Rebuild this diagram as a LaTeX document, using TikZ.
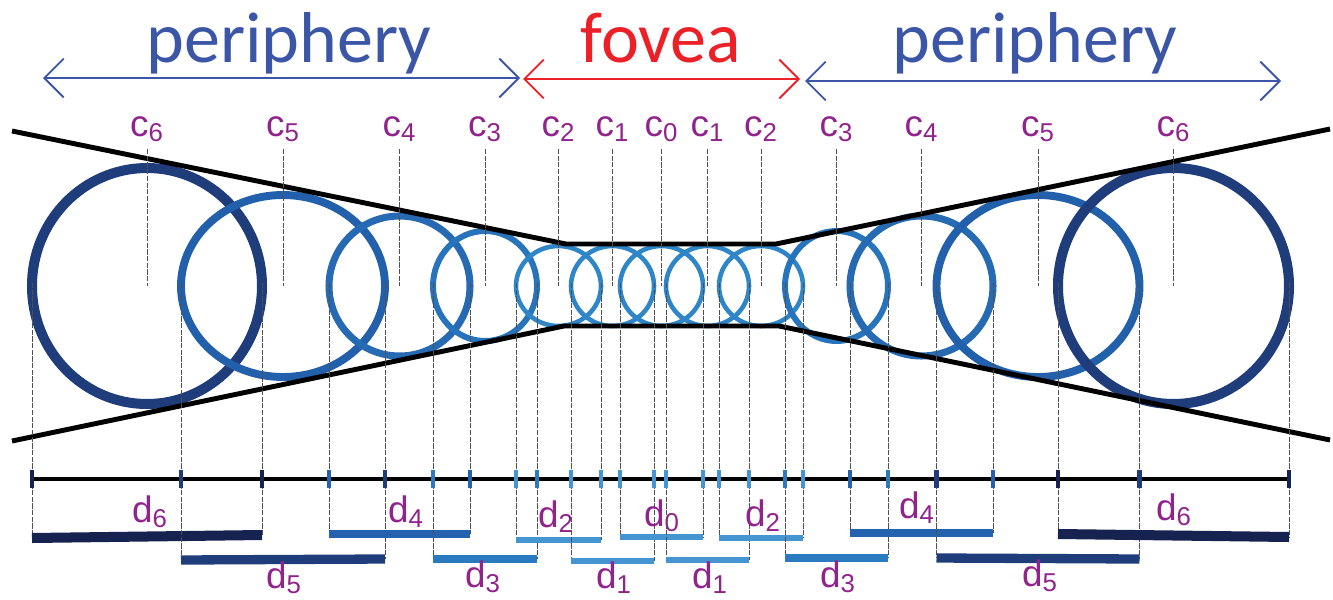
\documentclass[tikz,border=0pt]{standalone}
\usepackage{fontspec}
\setmainfont{Liberation Sans}
\newfontfamily\regionfont{Carlito}
\usetikzlibrary{arrows.meta}
\definecolor{RingSix}{RGB}{31,60,123}
\definecolor{RingFive}{RGB}{35,96,172}
\definecolor{RingFour}{RGB}{37,106,179}
\definecolor{RingThree}{RGB}{40,116,188}
\definecolor{RingFovea}{RGB}{46,134,200}
\definecolor{BarSix}{RGB}{22,34,80}
\definecolor{BarFive}{RGB}{31,61,123}
\definecolor{BarFour}{RGB}{36,97,174}
\definecolor{BarThree}{RGB}{42,122,192}
\definecolor{BarFovea}{RGB}{69,149,210}
\definecolor{LabelPurple}{RGB}{145,35,140}
\definecolor{PeriBlue}{RGB}{59,86,166}
\definecolor{FoveaRed}{RGB}{236,32,39}
\definecolor{GuideGray}{RGB}{80,80,80}
\def\ringlist{L6/147/115/118/RingSix/5.7pt/BarSix/5.7pt/538/535/150/522/6,
  L5/283/102/91/RingFive/4.5pt/BarFive/5.3pt/560/559/284/588/5,
  L4/399.5/70.5/70/RingFour/4pt/BarFour/4.5pt/534/534/406/522/4,
  L3/485/52/55/RingThree/3.4pt/BarThree/4pt/559/559/483/587/3,
  L2/558.5/42.5/40/RingFovea/2.6pt/BarFovea/3pt/540/540/556/527/2,
  L1/612.5/41.5/40/RingFovea/2.6pt/BarFovea/3pt/561/561/614/588/1,
  M0/661.5/41.5/40/RingFovea/2.6pt/BarFovea/3pt/537/537/662/526/0,
  R1/707.5/41.5/40/RingFovea/2.6pt/BarFovea/3pt/560/560/710/588/1,
  R2/761/42/40/RingFovea/2.6pt/BarFovea/3pt/538/538/763/526/2,
  R3/836.5/51.5/55/RingThree/3.4pt/BarThree/4pt/558/558/838/587/3,
  R4/921.5/71.5/70/RingFour/4pt/BarFour/4.5pt/533/533/917/518/4,
  R5/1038/101.5/91/RingFive/4.5pt/BarFive/5.3pt/558/559/1040/586/5,
  R6/1173.5/115.5/118/RingSix/5.7pt/BarSix/5.7pt/534/537/1174/520/6}
\begin{document}
\begin{tikzpicture}[x=0.02cm, y=-0.02cm,
    region/.style={anchor=base, inner sep=0pt, font=\regionfont\fontsize{41}{48}\selectfont},
    clabel/.style={anchor=base, inner sep=0pt, text=LabelPurple, font=\fontsize{21}{25}\selectfont},
    span/.style={{Straight Barb[length=11pt,width=22pt]}-{Straight Barb[length=11pt,width=22pt]}, line width=1.1pt},
    funnel/.style={line width=2.8pt, line join=round},
    guide/.style={GuideGray, line width=0.55pt, dash pattern=on 3pt off 0.8pt},
    tickmark/.style={line width=2.8pt}
  ]
  \useasboundingbox (0,0) rectangle (1333,599);

  \node[region, text=PeriBlue] (periL) at (289,62) {periphery};
  \node[region, text=FoveaRed] (fovea) at (661,62) {fovea};
  \node[region, text=PeriBlue] (periR) at (1035,62) {periphery};

  \coordinate (aL) at (43,78);
  \coordinate (aFL) at (520,78);
  \coordinate (aRL) at (523,79);
  \coordinate (aRR) at (800,79);
  \coordinate (aPL) at (805,81);
  \coordinate (aR) at (1281,81);
  \draw[span, PeriBlue] (aL) -- (aFL);
  \draw[span, FoveaRed] (aRL) -- (aRR);
  \draw[span, PeriBlue] (aPL) -- (aR);

  % receptive fields
  \foreach \n/\cx/\rx/\ry/\cc/\cw/\bc/\bw/\yl/\yr/\dx/\dy/\sub in \ringlist {
    \coordinate (\n) at (\cx,286);
    \draw[\cc, line width=\cw] (\n) ellipse [x radius=\rx, y radius=\ry];
  }

  \coordinate (tl) at (12,131);
  \coordinate (tm1) at (566,244);
  \coordinate (tm2) at (776,244);
  \coordinate (tr) at (1330,129);
  \coordinate (bl) at (12,441);
  \coordinate (bm1) at (564,326);
  \coordinate (bm2) at (779,326);
  \coordinate (br) at (1330,440);
  \draw[funnel] (tl) -- (tm1) -- (tm2) -- (tr);
  \draw[funnel] (bl) -- (bm1) -- (bm2) -- (br);

  \coordinate (axL) at (30,479);
  \coordinate (axR) at (1291,479);
  \draw[line width=2.8pt] (axL) -- (axR);

  % projections onto the axis
  \foreach \n/\cx/\rx/\ry/\cc/\cw/\bc/\bw/\yl/\yr/\dx/\dy/\sub in \ringlist {
    \coordinate (\n-l) at (\cx-\rx,283);
    \coordinate (\n-r) at (\cx+\rx,283);
    \coordinate (\n-bl) at (\cx-\rx,\yl);
    \coordinate (\n-br) at (\cx+\rx,\yr);
    \draw[guide] (\n-l) -- (\n-bl);
    \draw[guide] (\n-r) -- (\n-br);
    \draw[tickmark, \bc] (\n-l |- axL) ++(0,-9) -- ++(0,18);
    \draw[tickmark, \bc] (\n-r |- axL) ++(0,-9) -- ++(0,18);
    \draw[\bc, line width=\bw] (\n-bl) -- (\n-br);
    \node[clabel] (c-\n) at (\cx,136) {c\textsubscript{\sub}};
    \node[clabel] (d-\n) at (\dx,\dy) {d\textsubscript{\sub}};
    \draw[guide] ([yshift=-4pt]c-\n.south) -- (\n);
  }
\end{tikzpicture}
\end{document}
